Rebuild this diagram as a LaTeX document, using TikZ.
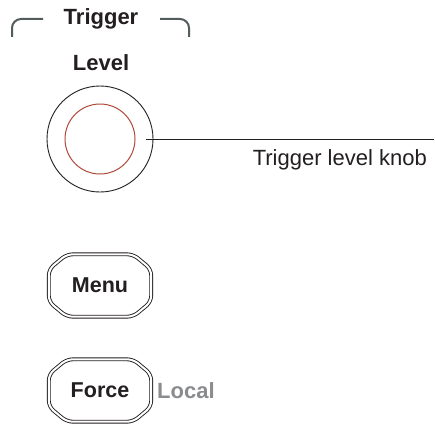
\documentclass[tikz,border=0pt]{standalone}
\usepackage{fontspec}
\setmainfont{Liberation Sans}
\newfontfamily\panelbold{Liberation Sans Bold}
\definecolor{PanelInk}{RGB}{35,31,32}
\definecolor{PanelGray}{RGB}{84,91,92}
\definecolor{LocalGray}{RGB}{138,140,142}
\definecolor{KnobRed}{RGB}{176,74,58}

\begin{document}
\begin{tikzpicture}[
caption/.style={font=\fontsize{22}{26}\selectfont\panelbold,text=PanelInk,inner sep=0pt},
button/.style={minimum width=102pt,minimum height=62pt,inner sep=0pt,
font=\fontsize{21.5}{26}\selectfont\panelbold,text=PanelInk},
keyline/.style={draw=PanelInk,line width=0.9pt,double=white,double distance=2pt,rounded corners=6pt},
bracket/.style={draw=PanelGray,line width=2pt,rounded corners=9pt},
leader/.style={draw=PanelInk,line width=0.8pt}
]
\fill[white] (0pt,0pt) rectangle (435pt,424pt);
% section heading
\node[caption,anchor=base] (trigger) at (101pt,399pt) {Trigger};
\draw[bracket] (12pt,387pt) -- (12pt,405pt) -- (43pt,405pt);
\draw[bracket] (160pt,405pt) -- (189pt,405pt) -- (189pt,387pt);
\node[caption,anchor=base] (level) at (101pt,354pt) {Level};
% knob
\node[circle,draw=PanelInk,line width=0.9pt,minimum size=106pt,inner sep=0pt] (knob) at (100pt,285pt) {};
\node[circle,draw=KnobRed,line width=1pt,minimum size=70pt,inner sep=0pt] (dial) at (knob) {};
\coordinate (leaderend) at (434pt,285pt);
\draw[leader] ([xshift=-7pt]knob.east) -- (leaderend);
\node[anchor=base east,inner sep=0pt,font=\fontsize{22}{26}\selectfont,text=PanelInk] (knoblabel) at (427pt,259pt) {Trigger level knob};
% keys
\node[button] (menu) at (100pt,138.5pt) {Menu};
\node[button] (force) at (100pt,33.5pt) {Force};
\foreach \k in {menu,force}
  \draw[keyline] ([xshift=18pt]\k.north west) -- ([xshift=-18pt]\k.north east)
    -- ([yshift=-15pt]\k.north east) -- ([yshift=15pt]\k.south east)
    -- ([xshift=-18pt]\k.south east) -- ([xshift=18pt]\k.south west)
    -- ([yshift=15pt]\k.south west) -- ([yshift=-15pt]\k.north west) -- cycle;
\node[caption,text=LocalGray,anchor=base west] (local) at (157pt,26pt) {Local};
\end{tikzpicture}
\end{document}
